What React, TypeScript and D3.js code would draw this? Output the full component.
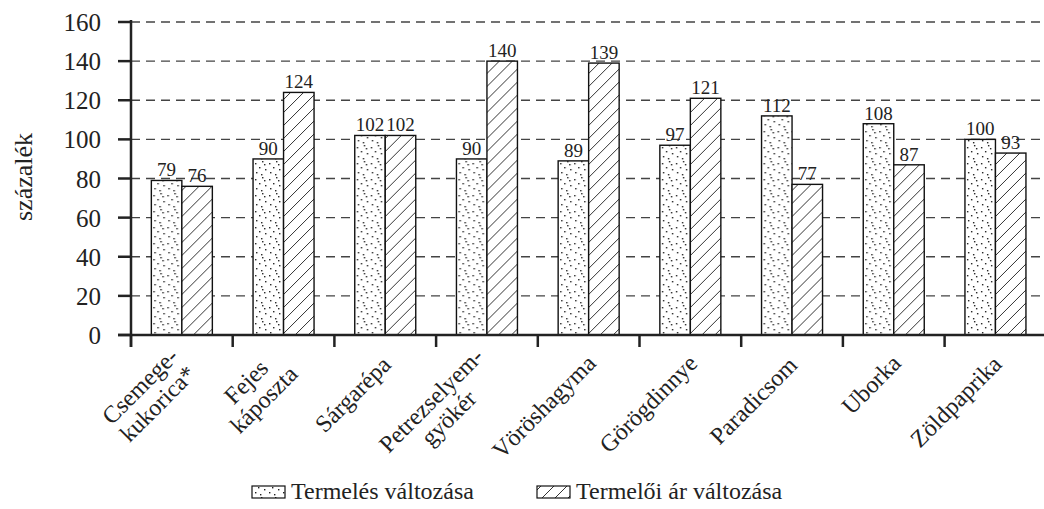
import React from "react";
import * as d3 from "d3";

// category labels (line breaks as in the original)
const categories = [
  ["Csemege-", "kukorica*"],
  ["Fejes", "káposzta"],
  ["Sárgarépa"],
  ["Petrezselyem-", "gyökér"],
  ["Vöröshagyma"],
  ["Görögdinnye"],
  ["Paradicsom"],
  ["Uborka"],
  ["Zöldpaprika"],
];
const termeles = [79, 90, 102, 90, 89, 97, 112, 108, 100];
const termeloiAr = [76, 124, 102, 140, 139, 121, 77, 87, 93];
const yTicks = [0, 20, 40, 60, 80, 100, 120, 140, 160];
const seriesNames = ["Termelés változása", "Termelői ár változása"];

const FONT = "Liberation Serif";
const INK = "#222";

// rough Times advance widths (em) to center stacked label lines
const charW: Record<string, number> = {
  a: 0.444, á: 0.444, b: 0.5, c: 0.444, d: 0.5, e: 0.444, é: 0.444, f: 0.333, g: 0.5, h: 0.5,
  i: 0.278, j: 0.278, k: 0.5, l: 0.278, m: 0.778, n: 0.5, o: 0.5, ö: 0.5, p: 0.5, r: 0.333,
  s: 0.389, t: 0.278, u: 0.5, v: 0.5, y: 0.5, z: 0.444, C: 0.667, F: 0.556, P: 0.556, "-": 0.333, "*": 0.5,
};
const textW = (s: string, size: number) =>
  [...s].reduce((acc, ch) => acc + (charW[ch] ?? 0.5), 0) * size;

const width = 1044;
const height = 509;
const margin = { top: 22, left: 131, bottom: 335 };

const App = () => {
  const data = categories.map((c, i) => ({
    key: c.join(" "),
    lines: c,
    values: [termeles[i], termeloiAr[i]],
  }));

  const x0 = d3.scaleBand()
    .domain(data.map(d => d.key))
    .range([margin.left, margin.left + 9 * 101.7]);

  const groupWidth = 61;
  const x1 = d3.scaleBand()
    .domain(["0", "1"])
    .range([0, groupWidth]);

  const y = d3.scaleLinear()
    .domain([0, 160])
    .range([margin.bottom, margin.top]);

  const dotPos = [[2, 3], [9, 1], [6, 7], [12, 9], [3, 12], [8, 14], [11, 4]];
  const fills = ["url(#dots)", "url(#hatch)"];
  const labelSize = 24;
  const lh = 25;
  const legendX = [252, 537];

  return (
    <div style={{ position: "absolute", left: 0, top: 0 }}>
      <svg width={width} height={height} style={{ display: "block" }} fontFamily={FONT}>
        <defs>
          <pattern id="dots" patternUnits="userSpaceOnUse" width={14} height={16}>
            <rect width={14} height={16} fill="#fff" />
            {dotPos.map(([dx, dy], i) => (
              <rect key={i} x={dx} y={dy} width={1.4} height={1.4} fill={INK} />
            ))}
          </pattern>
          <pattern id="hatch" patternUnits="userSpaceOnUse" width={13} height={13}>
            <rect width={13} height={13} fill="#fff" />
            <path d="M-1,14 L14,-1 M-1,1 L1,-1 M12,14 L14,12" stroke="#333" strokeWidth={1} />
          </pattern>
        </defs>

        {/* dashed gridlines */}
        {yTicks.filter(t => t > 0).map(t => (
          <line key={t} x1={margin.left} x2={width} y1={y(t)} y2={y(t)}
            stroke="#444" strokeWidth={1.3} strokeDasharray="9,6" />
        ))}

        {/* bars */}
        {data.map(d => (
          <g key={d.key} transform={`translate(${(x0(d.key) as number) + (x0.bandwidth() - groupWidth) / 2},0)`}>
            {d.values.map((v, i) => (
              <rect key={i} x={x1(String(i))} y={y(v)} width={x1.bandwidth()} height={y(0) - y(v)}
                fill={fills[i]} stroke="#111" strokeWidth={1.4} />
            ))}
            {d.values.map((v, i) => (
              <text key={"t" + i} x={(x1(String(i)) as number) + x1.bandwidth() / 2} y={y(v) - 4}
                textAnchor="middle" fontSize={19} fill={INK}>{v}</text>
            ))}
          </g>
        ))}

        {/* y axis */}
        <line x1={margin.left} x2={margin.left} y1={margin.top - 2} y2={margin.bottom + 12}
          stroke={INK} strokeWidth={2.5} />
        {yTicks.map(t => (
          <g key={t}>
            <line x1={margin.left - 13} x2={margin.left} y1={y(t)} y2={y(t)} stroke={INK} strokeWidth={2.5} />
            <text x={101} y={y(t) + 9} textAnchor="end" fontSize={25} fill={INK}>{t}</text>
          </g>
        ))}
        <text transform="translate(32,177) rotate(-90)" textAnchor="middle" fontSize={26} fill={INK}>
          százalék
        </text>

        {/* x axis */}
        <line x1={margin.left - 13} x2={width} y1={margin.bottom} y2={margin.bottom}
          stroke={INK} strokeWidth={2.5} />
        {data.map(d => (
          <line key={d.key} x1={x0(d.key)} x2={x0(d.key)} y1={margin.bottom} y2={margin.bottom + 12}
            stroke={INK} strokeWidth={2.5} />
        ))}

        {/* rotated category labels */}
        {data.map(d => {
          const cx = (x0(d.key) as number) + x0.bandwidth() / 2;
          const maxLen = Math.max(...d.lines.map(l => textW(l, labelSize)));
          return (
            <g key={d.key} transform={`translate(${cx + 1},361) rotate(-45)`}>
              {d.lines.map((line, i) => (
                <text key={line} x={-maxLen / 2} y={(i - (d.lines.length - 1) / 2) * lh + 8}
                  textAnchor="middle" fontSize={labelSize} fill={INK}>{line}</text>
              ))}
            </g>
          );
        })}

        {/* legend */}
        {seriesNames.map((name, i) => (
          <g key={name}>
            <rect x={legendX[i]} y={486} width={33} height={12} fill={fills[i]} stroke="#111" strokeWidth={1.2} />
            <text x={legendX[i] + 39} y={499} fontSize={24} fill={INK}>{name}</text>
          </g>
        ))}
      </svg>
    </div>
  );
};

export default App;
